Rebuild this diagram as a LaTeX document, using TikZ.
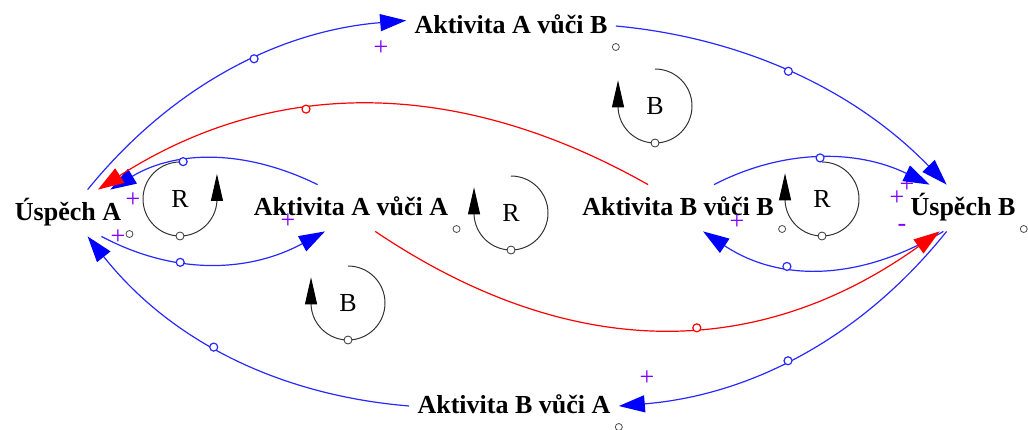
\documentclass[tikz,border=0pt]{standalone}
\usepackage{fontspec}
\setmainfont{Liberation Serif}
\usetikzlibrary{arrows.meta}
\definecolor{polarity}{RGB}{128,0,255}
\definecolor{linkblue}{RGB}{40,40,255}
\tikzset{
	var/.style={font=\fontsize{13}{15}\selectfont\bfseries, inner xsep=4pt, inner ysep=6pt, text height=9pt, text depth=2pt, anchor=base},
	link/.style={linkblue, line width=0.6pt, -{Triangle[length=13pt,width=8.5pt,blue]}},
	neglink/.style={red, line width=0.6pt, -{Triangle[length=13pt,width=8.5pt,red]}},
	knob/.style={circle, draw, fill=white, inner sep=0pt, minimum size=4pt},
	sign/.style={polarity, font=\fontsize{13}{15}\selectfont},
	loopline/.style={black!80, line width=0.5pt, -{Triangle[length=13.5pt,width=6pt,black]}},
	looplabel/.style={font=\fontsize{13}{15}\selectfont}
}

\begin{document}
\begin{tikzpicture}[x=0.5pt, y=-0.5pt]
			%%%%% START %%%%%
			\useasboundingbox (0,0) rectangle (1028,429);
			
			\node[var] (ua) at (68,220) {Úspěch A};
			\node[var] (aaa) at (351,215) {Aktivita A vůči A};
			\node[var] (abb) at (678,215) {Aktivita B vůči B};
			\node[var] (ub) at (963,215) {Úspěch B};
			\node[var] (aab) at (511,33) {Aktivita A vůči B};
			\node[var] (aba) at (514,413) {Aktivita B vůči A};
			
			\foreach \v in {ua,aaa,abb,ub,aab,aba}
				\draw[black!70, fill=white] ([yshift=-7pt]\v.base east) circle (3.5);
			
			% polarities
			\foreach \x/\y/\s [count=\i] in {381/48/+, 133/200/+, 118/237/+, 288/221/+, 737/222/+, 897/198/+, 907/185/+, 902/228/-, 647/378/+}
				\node[sign] (pol\i) at (\x,\y) {\s};
			
			% blue links
			\draw[link] (ua.50) .. controls (171,87) and (278,31) .. (aab.177) node[knob, pos=.574] (k1) {};
			\draw[link] (aab.east) .. controls (745,38) and (856,91) .. (ub.125) node[knob, pos=.478] (k2) {};
			\draw[link] (abb.33) .. controls (783,149) and (856,149) .. (ub.145) node[knob, pos=.5] (k3) {};
			\draw[link] (ub.-130) .. controls (859,282) and (779,282) .. (abb.-43) node[knob, pos=.639] (k4) {};
			\draw[link] (ub.-125) .. controls (862,337) and (752,395) .. (aba.east) node[knob, pos=.539] (k5) {};
			\draw[link] (aba.west) .. controls (276,395) and (169,339) .. (ua.-50) node[knob, pos=.548] (k6) {};
			\draw[link] (aaa.145) .. controls (245,149) and (176,150) .. (ua.29) node[knob, pos=.637] (k7) {};
			\draw[link] (ua.-35) .. controls (174,275) and (248,273) .. (aaa.-138) node[knob, pos=.359] (k8) {};
			
			% red links
			\draw[neglink] (abb.142) .. controls (456,76) and (272,78) .. (ua.38) node[knob, pos=.61] (k9) {};
			\draw[neglink] (aaa.-44) .. controls (569,362) and (757,362) .. (ub.-135) node[knob, pos=.5625] (k10) {};
			
			% loops
			\draw[loopline] (180,199) ++(-90:37) arc (-90:-357:37) -- ++(0,-27);
			\node[knob, draw=black!80] (lk1) at (180,236) {};
			\node[looplabel] (lp1) at (180,199) {R};
			\foreach \cx/\cy/\t [count=\i from 2] in {511/213/R, 822/199/R, 655/106/B, 348/303/B} {
				\draw[loopline] (\cx,\cy) ++(-90:37) arc (-90:178:37) -- ++(0,-27);
				\node[knob, draw=black!80] (lk\i) at (\cx,\cy+37) {};
				\node[looplabel] (lp\i) at (\cx,\cy) {\t};
			}
			
			%%%%% END %%%%%
\end{tikzpicture}
\end{document}
